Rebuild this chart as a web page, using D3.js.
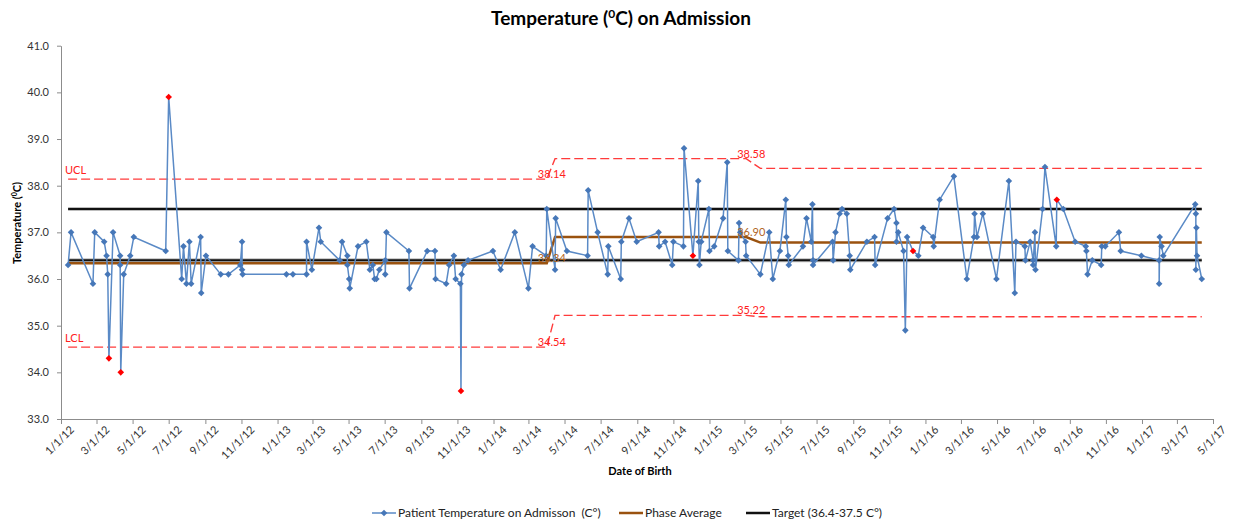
<!DOCTYPE html>
<html>
<head>
<meta charset="utf-8">
<script src="https://cdn.jsdelivr.net/npm/d3@7/dist/d3.min.js"></script>
<style>
  body { margin: 0; background: #fff; }
  text { font-family: Lato, "Open Sans", sans-serif; }
</style>
</head>
<body>
<div id="chart"></div>
<script>
// admission dates and temperatures
let dates = [
  "2012-01-13","2012-01-18","2012-02-24","2012-02-27","2012-03-14","2012-03-18","2012-03-20","2012-03-22","2012-03-29","2012-04-10",
  "2012-04-10","2012-04-11","2012-04-16","2012-04-27","2012-05-03","2012-06-26","2012-07-01","2012-07-23","2012-07-26","2012-07-31",
  "2012-08-05","2012-08-08","2012-08-24","2012-08-25","2012-09-02","2012-09-27","2012-10-10","2012-10-30","2012-11-02","2012-11-02",
  "2012-11-03","2013-01-16","2013-01-27","2013-02-19","2013-02-19","2013-02-28","2013-03-12","2013-03-15","2013-04-16","2013-04-20",
  "2013-04-29","2013-04-29","2013-05-02","2013-05-03","2013-05-17","2013-05-31","2013-06-06","2013-06-11","2013-06-14","2013-06-17",
  "2013-06-22","2013-07-02","2013-07-02","2013-07-04","2013-08-11","2013-08-12","2013-09-11","2013-09-24","2013-09-25","2013-10-13",
  "2013-10-18","2013-10-26","2013-10-29","2013-11-06","2013-11-07","2013-11-08","2013-11-12","2013-11-19","2013-12-31","2014-01-13",
  "2014-02-06","2014-03-01","2014-03-08","2014-03-31","2014-04-01","2014-04-15","2014-04-16","2014-05-05","2014-06-09","2014-06-10",
  "2014-06-26","2014-07-13","2014-07-14","2014-08-04","2014-08-05","2014-08-18","2014-08-31","2014-10-07","2014-10-08","2014-10-18",
  "2014-10-30","2014-11-01","2014-11-18","2014-11-19","2014-12-04","2014-12-13","2014-12-14","2014-12-15","2014-12-18","2014-12-31",
  "2015-01-01","2015-01-09","2015-01-24","2015-01-31","2015-02-01","2015-02-19","2015-02-20","2015-02-22","2015-03-03","2015-03-04",
  "2015-03-28","2015-04-12","2015-04-18","2015-04-30","2015-05-10","2015-05-11","2015-05-14","2015-05-15","2015-06-08","2015-06-14",
  "2015-06-22","2015-06-24","2015-06-25","2015-06-25","2015-07-28","2015-07-29","2015-08-02","2015-08-09","2015-08-13","2015-08-21",
  "2015-08-26","2015-08-27","2015-09-24","2015-10-07","2015-10-08","2015-10-29","2015-11-09","2015-11-13","2015-11-13","2015-11-16",
  "2015-11-25","2015-11-28","2015-12-01","2015-12-11","2015-12-20","2015-12-28","2016-01-14","2016-01-15","2016-01-25","2016-02-18",
  "2016-03-11","2016-03-23","2016-03-24","2016-03-28","2016-04-07","2016-04-30","2016-05-21","2016-05-31","2016-06-02","2016-06-17",
  "2016-06-18","2016-06-26","2016-07-01","2016-07-01","2016-07-04","2016-07-05","2016-07-17","2016-07-21","2016-08-09","2016-08-10",
  "2016-08-21","2016-09-10","2016-09-28","2016-09-29","2016-10-01","2016-10-09","2016-10-24","2016-10-25","2016-10-31","2016-11-23",
  "2016-11-26","2016-12-31","2017-01-30","2017-01-30","2017-01-31","2017-02-03","2017-02-06","2017-04-01","2017-04-02","2017-04-02",
  "2017-04-03","2017-04-04","2017-04-12"
];
let temps = [
  36.3,37.0,35.9,37.0,36.8,36.5,36.1,34.3,37.0,36.5,
  36.3,34.0,36.1,36.5,36.9,36.6,39.9,36.0,36.7,35.9,
  36.8,35.9,36.9,35.7,36.5,36.1,36.1,36.3,36.8,36.2,
  36.1,36.1,36.1,36.1,36.8,36.2,37.1,36.8,36.4,36.8,
  36.5,36.3,36.0,35.8,36.7,36.8,36.2,36.3,36.0,36.0,
  36.2,36.4,36.1,37.0,36.6,35.8,36.6,36.6,36.0,35.9,
  36.3,36.5,36.0,35.9,33.6,36.1,36.3,36.4,36.6,36.2,
  37.0,35.8,36.7,36.5,37.5,36.2,37.3,36.6,36.5,37.9,
  37.0,36.1,36.7,36.0,36.8,37.3,36.8,37.0,36.7,36.8,
  36.3,36.8,36.7,38.8,36.5,38.1,36.8,36.3,36.8,37.5,
  36.6,36.7,37.3,38.5,36.6,36.4,37.2,37.0,36.8,36.5,
  36.1,37.0,36.0,36.6,37.7,36.9,36.5,36.3,36.7,37.3,
  36.8,37.6,36.4,36.3,36.8,36.4,37.0,37.4,37.5,37.4,
  36.5,36.2,36.8,36.9,36.3,37.3,37.5,37.2,36.8,37.0,
  36.6,34.9,36.9,36.6,36.5,37.1,36.9,36.7,37.7,38.2,
  36.0,36.9,37.4,36.9,37.4,36.0,38.1,35.7,36.8,36.7,
  36.4,36.8,36.4,36.3,37.0,36.2,37.5,38.4,36.7,37.7,
  37.5,36.8,36.7,36.6,36.1,36.4,36.3,36.7,36.7,37.0,
  36.6,36.5,36.4,35.9,36.9,36.7,36.5,37.6,37.4,36.2,
  37.1,36.5,36.0
];
// special cause points (shown red)
let specialIdx = [7, 11, 16, 64, 94, 143, 169];

// phases
let phaseStart = ["2012-01-13", "2014-04-15", "2015-03-28"];
let phaseEnd = ["2014-04-01", "2015-03-04", "2017-04-12"];
let phaseAvg = [36.34, 36.90, 36.78];
let phaseUCL = [38.14, 38.58, 38.37];
let phaseLCL = [34.54, 35.22, 35.19];
let targetLow = 36.4, targetHigh = 37.5;

let yTicks = [33, 34, 35, 36, 37, 38, 39, 40, 41];
let xStart = "2012-01-01", xEnd = "2017-05-01";

let W = 1236, H = 525;
let parse = d3.timeParse("%Y-%m-%d");

let svg = d3.select("#chart")
    .append("svg")
    .attr("width", W)
    .attr("height", H);

let x = d3.scaleTime()
    .domain([parse(xStart), parse(xEnd)])
    .range([61, 1213]);
let y = d3.scaleLinear()
    .domain([33, 41])
    .range([419, 45.7]);

// title
let title = svg.append("text")
    .attr("x", 621).attr("y", 25)
    .attr("text-anchor", "middle")
    .style("font-size", "19px").style("font-weight", "bold");
title.append("tspan").text("Temperature (");
title.append("tspan").attr("dy", -7).style("font-size", "12px").text("0");
title.append("tspan").attr("dy", 7).text("C) on Admission");

// axes
let xAxis = d3.axisBottom(x)
    .tickValues(d3.timeMonth.every(2).range(parse(xStart), d3.timeDay.offset(parse(xEnd), 1)))
    .tickFormat(d3.timeFormat("%-m/%-d/%y"))
    .tickSize(5).tickSizeOuter(0);
let gx = svg.append("g")
    .attr("transform", "translate(0," + y(33) + ")")
    .call(xAxis);
gx.selectAll("text")
    .attr("text-anchor", "end")
    .attr("transform", "translate(5,3) rotate(-45)")
    .attr("dy", "0.35em")
    .style("font-size", "11px")
    .attr("fill", "#333");

let yAxis = d3.axisLeft(y)
    .tickValues(yTicks)
    .tickFormat(d3.format(".1f"))
    .tickSize(4).tickSizeOuter(0);
let gy = svg.append("g")
    .attr("transform", "translate(" + 61 + ",0)")
    .call(yAxis);
gy.selectAll("text").style("font-size", "11px").attr("fill", "#333").attr("x", -12);

svg.selectAll(".domain, .tick line").attr("stroke", "#8c8c8c");

// axis titles
let yt = svg.append("text")
    .attr("transform", "translate(21,223) rotate(-90)")
    .attr("text-anchor", "middle")
    .style("font-size", "11px").style("font-weight", "bold");
yt.append("tspan").text("Temperature (");
yt.append("tspan").attr("dy", -4).style("font-size", "7px").text("0");
yt.append("tspan").attr("dy", 4).text("C)");

svg.append("text")
    .attr("x", 640).attr("y", 475)
    .attr("text-anchor", "middle")
    .style("font-size", "11px").style("font-weight", "bold")
    .text("Date of Birth");

// step lines across phases
function stepPoints(vals) {
    let pts = [];
    vals.forEach(function (v, i) {
        pts.push([parse(phaseStart[i]), v]);
        pts.push([parse(phaseEnd[i]), v]);
    });
    return pts;
}
let line = d3.line()
    .x(function (d) { return x(d[0]); })
    .y(function (d) { return y(d[1]); });

[phaseUCL, phaseLCL].forEach(function (vals) {
    svg.append("path")
        .attr("d", line(stepPoints(vals)))
        .attr("fill", "none")
        .attr("stroke", "#ff3b3b")
        .attr("stroke-width", 1.4)
        .attr("stroke-dasharray", "9,4");
});

let first = parse(dates[0]), last = parse(dates[dates.length - 1]);
[targetHigh, targetLow].forEach(function (v) {
    svg.append("line")
        .attr("x1", x(first)).attr("x2", x(last))
        .attr("y1", y(v)).attr("y2", y(v))
        .attr("stroke", "#bdbdbd").attr("stroke-width", 4);
    svg.append("line")
        .attr("x1", x(first)).attr("x2", x(last))
        .attr("y1", y(v)).attr("y2", y(v))
        .attr("stroke", "#111").attr("stroke-width", 2);
});

svg.append("path")
    .attr("d", line(stepPoints(phaseAvg)))
    .attr("fill", "none")
    .attr("stroke", "#9a520f")
    .attr("stroke-width", 2.5);

// patient series
let pts = dates.map(function (d, i) { return [parse(d), temps[i], i]; });
svg.append("path")
    .attr("d", line(pts))
    .attr("fill", "none")
    .attr("stroke", "#5a8ac6")
    .attr("stroke-width", 1.5);

let diamond = "M0,-3.3L3.3,0L0,3.3L-3.3,0Z";
svg.selectAll(".pt")
    .data(pts)
    .enter()
    .append("path")
    .attr("class", "pt")
    .attr("d", diamond)
    .attr("transform", function (d) { return "translate(" + x(d[0]) + "," + y(d[1]) + ")"; })
    .attr("fill", function (d) { return specialIdx.indexOf(d[2]) >= 0 ? "#ff0000" : "#4677b8"; });

// value labels for first two phases
[0, 1].forEach(function (i) {
    let lx = x(parse(phaseEnd[i])) - 9;
    svg.append("text").attr("x", lx).attr("y", y(phaseUCL[i]) - 1)
        .style("font-size", "11px").attr("fill", "#ff2020").text(phaseUCL[i].toFixed(2));
    svg.append("text").attr("x", lx).attr("y", y(phaseAvg[i]) - 1)
        .style("font-size", "11px").attr("fill", "#b0651e").text(phaseAvg[i].toFixed(2));
    svg.append("text").attr("x", lx).attr("y", y(phaseLCL[i]) - 1)
        .style("font-size", "11px").attr("fill", "#ff2020").text(phaseLCL[i].toFixed(2));
});
svg.append("text").attr("x", 65).attr("y", y(phaseUCL[0]) - 5)
    .style("font-size", "11px").attr("fill", "#ff2020").text("UCL");
svg.append("text").attr("x", 65).attr("y", y(phaseLCL[0]) - 5)
    .style("font-size", "11px").attr("fill", "#ff2020").text("LCL");

// legend
let legend = [
    {label: "Patient Temperature on Admisson  (C°)", color: "#5a8ac6", x: 372, marker: true},
    {label: "Phase Average", color: "#9a520f", x: 619, marker: false},
    {label: "Target (36.4-37.5 C°)", color: "#111", x: 746, marker: false}
];
let lg = svg.selectAll(".lg")
    .data(legend)
    .enter()
    .append("g")
    .attr("transform", function (d) { return "translate(" + d.x + ",513)"; });
lg.append("line")
    .attr("x1", 0).attr("x2", 24)
    .attr("stroke", function (d) { return d.color; })
    .attr("stroke-width", function (d) { return d.marker ? 1.5 : 2.5; });
lg.filter(function (d) { return d.marker; })
    .append("path").attr("d", diamond).attr("transform", "translate(12,0)").attr("fill", "#4677b8");
lg.append("text")
    .attr("x", 26).attr("dy", "0.35em")
    .style("font-size", "12px").style("white-space", "pre").attr("fill", "#222")
    .text(function (d) { return d.label; });
</script>
</body>
</html>
